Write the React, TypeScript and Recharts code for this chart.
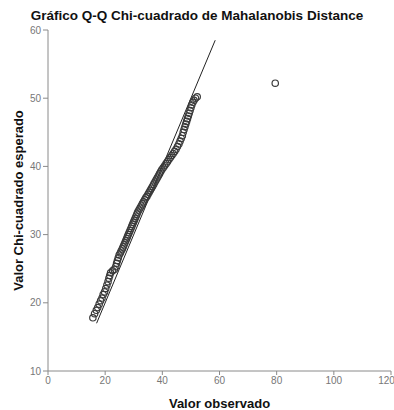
import {
  ScatterChart,
  Scatter,
  XAxis,
  YAxis,
  ReferenceLine,
} from "recharts";

// observed Mahalanobis distances (x) and expected chi-square quantiles (y)
const observed = [
  15.7, 16.3, 16.9, 17.4, 17.9, 18.4, 18.9, 19.3, 19.8, 20.2, 20.6, 21.0, 21.3, 21.6, 21.9, 22.6, 23.2, 23.7, 24.0, 24.3,
  24.6, 24.9, 25.3, 25.6, 26.0, 26.3, 26.6, 26.9, 27.2, 27.5, 27.8, 28.1, 28.4, 28.7, 29.0, 29.3, 29.6, 29.9, 30.2, 30.5,
  30.8, 31.1, 31.4, 31.8, 32.2, 32.6, 33.0, 33.4, 33.8, 34.2, 34.6, 35.0, 35.4, 35.8, 36.2, 36.6, 37.0, 37.4, 37.8, 38.2,
  38.6, 39.0, 39.4, 39.8, 40.3, 40.8, 41.3, 41.8, 42.3, 42.8, 43.3, 43.8, 44.3, 44.8, 45.3, 45.8, 46.2, 46.6, 47.0, 47.3,
  47.6, 47.9, 48.2, 48.5, 48.8, 49.1, 49.4, 49.7, 50.0, 50.3, 50.7, 51.1, 51.6, 52.2, 79.5,
];
const expected = [
  17.8, 18.4, 18.9, 19.3, 19.8, 20.3, 20.7, 21.2, 21.6, 22.1, 22.6, 23.1, 23.6, 24.0, 24.4, 24.7, 24.9, 25.3, 25.8, 26.2,
  26.6, 27.0, 27.3, 27.6, 27.9, 28.2, 28.5, 28.8, 29.1, 29.4, 29.7, 30.0, 30.3, 30.6, 30.9, 31.2, 31.5, 31.8, 32.1, 32.4,
  32.7, 33.0, 33.3, 33.6, 33.9, 34.2, 34.5, 34.8, 35.1, 35.4, 35.6, 35.9, 36.2, 36.5, 36.8, 37.1, 37.4, 37.7, 38.0, 38.3,
  38.6, 38.9, 39.2, 39.5, 39.8, 40.1, 40.4, 40.7, 41.0, 41.3, 41.6, 41.9, 42.2, 42.5, 42.9, 43.3, 43.7, 44.1, 44.5, 45.0,
  45.4, 45.8, 46.2, 46.6, 47.0, 47.4, 47.8, 48.2, 48.6, 49.0, 49.4, 49.7, 50.0, 50.2, 52.2,
];
const refLine = [17, 58.5];
const xTicks = [0, 20, 40, 60, 80, 100, 120];
const yTicks = [10, 20, 30, 40, 50, 60];

const points = observed.map((x, i) => ({ x, y: expected[i] }));

const font = "Arial, 'Liberation Sans', sans-serif";
const axisGrey = "#8a8a8a";

function Ring(props: any) {
  const { cx, cy } = props;
  if (cx == null || cy == null) return null;
  return <circle cx={cx} cy={cy} r={3.2} fill="none" stroke="#3a3a3a" strokeWidth={1.2} />;
}

export default function App() {
  return (
    <div style={{ position: "absolute", left: 0, top: 0, width: 394, height: 410, background: "#fff" }}>
      <div
        style={{
          position: "absolute",
          left: 0,
          top: 8,
          width: 394,
          textAlign: "center",
          fontFamily: font,
          fontWeight: "bold",
          fontSize: 13.5,
          color: "#111",
        }}
      >
        Gráfico Q-Q Chi-cuadrado de Mahalanobis Distance
      </div>
      <ScatterChart width={394} height={410} margin={{ top: 30, right: 3, bottom: 0, left: 0 }}>
        <XAxis
          type="number"
          dataKey="x"
          domain={[0, 120]}
          ticks={xTicks}
          height={39}
          tickSize={4}
          tickLine={{ stroke: axisGrey }}
          axisLine={{ stroke: axisGrey }}
          tick={{ fill: "#777", fontSize: 10, fontFamily: font }}
          label={{
            value: "Valor observado",
            position: "insideBottom",
            offset: 2,
            style: { fontFamily: font, fontWeight: "bold", fontSize: 13, fill: "#111" },
          }}
        />
        <XAxis
          xAxisId="top"
          orientation="top"
          type="number"
          domain={[0, 120]}
          height={0}
          tick={false}
          tickLine={false}
          axisLine={{ stroke: axisGrey }}
        />
        <YAxis
          type="number"
          dataKey="y"
          domain={[10, 60]}
          ticks={yTicks}
          width={48}
          tickSize={5}
          tickLine={{ stroke: axisGrey }}
          axisLine={{ stroke: axisGrey }}
          tick={{ fill: "#777", fontSize: 10, fontFamily: font }}
          label={{
            value: "Valor Chi-cuadrado esperado",
            angle: -90,
            position: "insideLeft",
            offset: 18,
            style: { textAnchor: "middle", fontFamily: font, fontWeight: "bold", fontSize: 13, fill: "#111" },
          }}
        />
        <YAxis
          yAxisId="right"
          orientation="right"
          type="number"
          domain={[10, 60]}
          width={0}
          tick={false}
          tickLine={false}
          axisLine={{ stroke: axisGrey }}
        />
        <ReferenceLine
          segment={[
            { x: refLine[0], y: refLine[0] },
            { x: refLine[1], y: refLine[1] },
          ]}
          stroke="#222"
          strokeWidth={1}
          ifOverflow="visible"
        />
        <Scatter data={points} shape={<Ring />} isAnimationActive={false} />
      </ScatterChart>
    </div>
  );
}
